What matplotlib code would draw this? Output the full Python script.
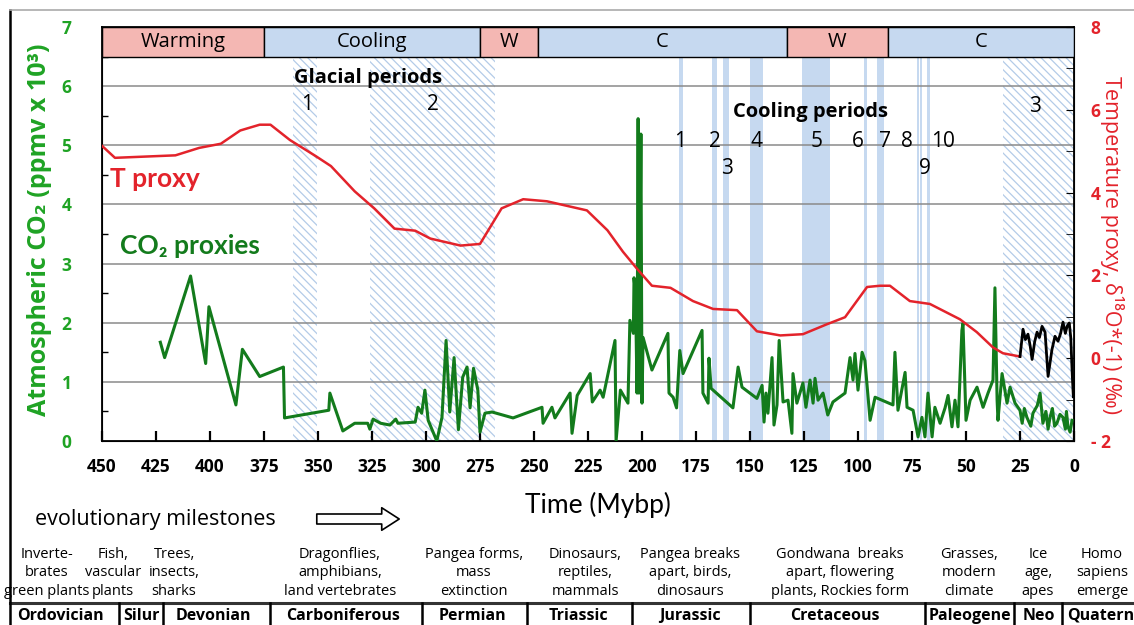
import numpy as np
import matplotlib
matplotlib.use("Agg")
import matplotlib.pyplot as plt
from matplotlib.lines import Line2D

plt.rcParams['font.family'] = ['Lato', 'DejaVu Sans']
plt.rcParams['hatch.linewidth'] = 0.9
OS = ['Open Sans', 'DejaVu Sans']

# ---- data ----
# CO2 proxies, x10^3 ppmv, ages in Mybp
co2_age = [423, 421, 409, 402, 400.5, 388, 385, 377, 366, 365.5, 345, 344.5, 338.5, 333,
           327, 326, 324.5, 321, 316.7, 314, 313, 305, 303.7, 302, 300.5, 299, 295, 292.6,
           290.7, 289, 287, 285, 283, 281, 279.6, 278, 276, 275, 272.7, 269.4, 259.7, 246.3,
           245.8, 241.7, 240.3, 233.3, 232.4, 230, 224, 223, 219.4, 218, 212.5, 212, 210,
           206.5, 205.6, 204, 203.7, 203, 202.3, 201.8, 201.4, 200.5, 200, 199.5, 195.4, 188,
           187.5, 185.6, 184, 182.5, 181, 172.2, 171.8, 169.4, 169, 168, 157.9, 155.5, 153.7,
           146.8, 144.4, 143.5, 142.6, 141.7, 139.8, 138.9, 137.5, 136.5, 134.7, 132.4, 130.6,
           130.1, 128.3, 125.5, 124.1, 122.2, 120.8, 119.9, 118.5, 116.2, 114, 111.6, 106,
           103.7, 102.3, 101.4, 100, 98.1, 96.8, 94.4, 92.1, 83.8, 82.9, 81.5, 78.2, 77.3, 74.5,
           72.2, 70.4, 69, 67.6, 65.7, 64.4, 62, 59.7, 58.3, 56.5, 55.1, 53.7, 51.9, 51.4, 50,
           48.1, 44.9, 42.1, 39.8, 37.5, 36.6, 35.6, 35.2, 33.3, 31, 29.6, 27.3, 25, 24, 23,
           21.8, 20, 19, 17, 15.7, 14.4, 13, 12, 11.1, 10, 9, 7.9, 6.5, 5.1, 4, 3.5, 2.8, 1.8, 0.9]
co2_val = [1.67, 1.41, 2.79, 1.31, 2.27, 0.61, 1.55, 1.09, 1.25, 0.39, 0.52, 0.81, 0.17, 0.30,
           0.30, 0.20, 0.37, 0.30, 0.27, 0.37, 0.30, 0.32, 0.57, 0.47, 0.86, 0.35, 0.0, 0.40,
           1.70, 0.49, 1.41, 0.19, 1.08, 1.25, 0.56, 1.23, 0.86, 0.15, 0.47, 0.49, 0.39, 0.57,
           0.30, 0.57, 0.39, 0.81, 0.13, 0.77, 1.14, 0.66, 0.86, 0.74, 1.70, 0.0, 0.86,
           0.64, 2.04, 1.82, 2.76, 2.49, 0.81, 5.45, 0.81, 5.19, 0.64, 1.75, 1.20, 1.82,
           0.81, 0.74, 0.56, 1.53, 1.14, 1.87, 0.81, 0.64, 1.40, 0.89, 0.56, 1.25, 0.91,
           0.72, 0.94, 0.32, 0.81, 0.47, 1.41, 0.27, 0.61, 1.70, 0.66, 0.69, 0.13,
           1.14, 0.64, 0.98, 0.57, 1.03, 0.64, 1.06, 0.69, 0.81, 0.44, 0.66, 0.81,
           1.41, 1.03, 1.48, 0.86, 1.50, 1.36, 0.35, 0.74, 0.61, 1.50, 0.52, 1.16, 0.57, 0.52,
           0.07, 0.40, 0.07, 0.81, 0.07, 0.57, 0.30, 0.56, 0.77, 0.24, 0.69, 0.24, 1.87, 1.99, 0.35,
           0.69, 0.91, 0.57, 0.81, 1.03, 2.59, 0.69, 0.35, 1.14, 0.64, 0.91, 0.64, 0.52, 0.30, 0.55,
           0.40, 0.25, 0.47, 0.60, 0.81, 0.30, 0.50, 0.20, 0.40, 0.55, 0.25, 0.30, 0.45, 0.40, 0.20, 0.50, 0.24, 0.15, 0.35]

# temperature proxy (delta18O * -1, permil)
t_age = [450, 444, 416, 405, 395, 386, 377, 372, 363, 351, 344, 333, 324, 314.6, 305, 298, 284,
         275, 265, 255, 244, 225.5, 216, 208.8, 202.3, 195.4, 186.8, 176.4, 167.1, 156, 146.8,
         136, 125.5, 114.4, 106, 95.8, 89.8, 85.2, 76, 66.7, 52.8, 45, 37.5, 32.9, 25]
t_val = [5.13, 4.84, 4.90, 5.08, 5.18, 5.50, 5.64, 5.64, 5.27, 4.88, 4.64, 4.03, 3.62, 3.13, 3.08,
         2.89, 2.72, 2.76, 3.62, 3.84, 3.79, 3.57, 3.09, 2.57, 2.16, 1.75, 1.70, 1.38, 1.19, 1.16,
         0.65, 0.55, 0.58, 0.82, 0.99, 1.72, 1.75, 1.75, 1.38, 1.31, 0.94, 0.63, 0.26, 0.12, 0.04]

# recent high resolution record (black)
rec_age = [25, 23.6, 22.5, 21.3, 20.3, 19.4, 18.2, 17.1, 16, 14.8, 13.4, 12, 10.2, 8.8, 7.4,
           6.2, 5.1, 4, 3.2, 2.2, 1.5, 0.8, 0.3]
rec_val = [0.04, 0.70, 0.45, 0.58, 0.30, -0.03, 0.40, 0.63, 0.50, 0.77, 0.63, -0.44, 0.21, 0.53,
           0.41, 0.60, 0.87, 0.60, 0.77, 0.85, 0.50, -0.40, -0.93]

# climate phases in the top band
phase_start = [450, 375, 275, 248, 133, 86]
phase_end = [375, 275, 248, 133, 86, 0]
phase_label = ['Warming', 'Cooling', 'W', 'C', 'W', 'C']

# glacial periods (hatched) and cooling periods (strips)
glacial_start = [361.5, 326, 33]
glacial_end = [350.5, 268, 0]
cool_start = [183, 167.6, 162.5, 150, 126, 97.2, 91.2, 72.7, 71.3, 68.2]
cool_end = [181.2, 165.3, 159.7, 144, 113, 95.8, 88, 71.6, 70.3, 66.8]

milestones = ['Inverte-\nbrates\ngreen plants', 'Fish,\nvascular\nplants', 'Trees,\ninsects,\nsharks',
              'Dragonflies,\namphibians,\nland vertebrates', 'Pangea forms,\nmass\nextinction',
              'Dinosaurs,\nreptiles,\nmammals', 'Pangea breaks\napart, birds,\ndinosaurs',
              'Gondwana  breaks\napart, flowering\nplants, Rockies form', 'Grasses,\nmodern\nclimate',
              'Ice\nage,\napes', 'Homo\nsapiens\nemerge']
milestone_px = [47, 113, 174, 340, 474, 585, 690, 840, 969, 1038, 1102]
periods = ['Ordovician', 'Silur', 'Devonian', 'Carboniferous', 'Permian', 'Triassic',
           'Jurassic', 'Cretaceous', 'Paleogene', 'Neo', 'Quatern']
period_px = [60, 141, 213, 343, 472, 578, 690, 835, 970, 1039, 1101]
period_sep_px = [119, 163, 270, 422, 527, 632, 750, 925, 1014, 1062]

W, H = 1134, 625
RED = '#e3232b'
GREEN = '#137b1c'
DKGREEN = '#1fa324'
PINK = '#f4b7b3'
LBLUE = '#c6d9f0'


def fx(px):
    return px / W


def fy(py):
    return 1 - py / H


fig = plt.figure(figsize=(W / 100, H / 100), dpi=100)
ax = fig.add_axes([fx(102), fy(441), 972 / W, 414 / H])
ax.set_xlim(450, 0)
ax.set_ylim(0, 7)
band = 6.5 / 7

# top band
for s, e, lab in zip(phase_start, phase_end, phase_label):
    col = PINK if lab.startswith('W') else LBLUE
    ax.axvspan(s, e, ymin=band, ymax=1, facecolor=col, edgecolor='black', lw=1.0, zorder=3)
    ax.text((s + e) / 2, 6.75, lab, ha='center', va='center', fontsize=14.5, zorder=4, family=OS)

# glacial periods
for s, e in zip(glacial_start, glacial_end):
    ax.axvspan(s, e, ymin=0, ymax=band, facecolor='white', edgecolor='#b3cbe8',
               hatch='\\\\\\\\', lw=0, zorder=0.5)
# cooling periods
for s, e in zip(cool_start, cool_end):
    ax.axvspan(s, e, ymin=0, ymax=band, facecolor=LBLUE, edgecolor='none', zorder=0.6)

for g in range(1, 7):
    ax.axhline(g, color='#8a8a8a', lw=1.1, zorder=1)

ax.plot(co2_age, co2_val, color=GREEN, lw=2.2, zorder=5)

ax.set_xticks(np.arange(450, -1, -25))
ax.set_yticks(range(0, 8))
ax.set_yticks(np.arange(0.5, 7, 1), minor=True)
ax.tick_params(axis='x', direction='in', length=7, width=1.6, pad=12, labelsize=12.5)
ax.tick_params(axis='y', which='major', direction='in', length=0, pad=22, labelsize=12.5,
               labelcolor=DKGREEN)
ax.tick_params(axis='y', which='minor', direction='in', length=4, width=1)
for lab in ax.get_xticklabels() + ax.get_yticklabels():
    lab.set_fontweight('bold')
    lab.set_family(OS)
for sp in ax.spines.values():
    sp.set_linewidth(1.3)

ax2 = ax.twinx()
ax2.set_ylim(-2, 8)
ax2.plot(t_age, t_val, color=RED, lw=1.8, zorder=5)
ax2.plot(rec_age, rec_val, color='black', lw=2.0, zorder=5)
ax2.set_yticks(range(-2, 9, 2))
ax2.set_yticklabels(['- 2', '0', '2', '4', '6', '8'])
ax2.set_yticks(range(-1, 8, 2), minor=True)
ax2.tick_params(axis='y', which='major', direction='in', length=6, pad=12, labelsize=12.5,
                labelcolor=RED)
ax2.tick_params(axis='y', which='minor', direction='in', length=6)
for lab in ax2.get_yticklabels():
    lab.set_fontweight('bold')
    lab.set_family(OS)

# in-plot annotations
ax.text(326.9, 6.14, 'Glacial periods', ha='center', va='center', fontsize=14.5,
        fontweight='bold', family=OS)
ax.text(355, 5.69, '1', ha='center', va='center', fontsize=15, family=OS)
ax.text(296.8, 5.69, '2', ha='center', va='center', fontsize=15, family=OS)
ax.text(18, 5.66, '3', ha='center', va='center', fontsize=15, family=OS)
ax.text(122.2, 5.57, 'Cooling periods', ha='center', va='center', fontsize=14.5,
        fontweight='bold', family=OS)
for lab, xx, yy in [('1', 182.4, 5.07), ('2', 166.2, 5.07), ('4', 146.8, 5.07), ('5', 119, 5.07),
                    ('6', 100, 5.07), ('7', 87.5, 5.07), ('8', 77.3, 5.07), ('10', 60.6, 5.07),
                    ('3', 160.6, 4.61), ('9', 69, 4.61)]:
    ax.text(xx, yy, lab, ha='center', va='center', fontsize=15, family=OS)
ax.text(446.3, 4.43, 'T proxy', ha='left', va='center', fontsize=19, fontweight='bold', color=RED)
ax.text(441.7, 3.30, 'CO₂ proxies', ha='left', va='center', fontsize=19, fontweight='bold',
        color=GREEN)

# axis labels
fig.text(fx(40), fy(230), 'Atmospheric CO₂ (ppmv x 10³)', rotation=90, ha='center', va='center',
         fontsize=18, fontweight='bold', color=DKGREEN, family=OS)
fig.text(fx(1112), fy(245), 'Temperature proxy, δ¹⁸O*(-1) (‰)', rotation=270, ha='center',
         va='center', fontsize=15.5, color=RED, family=OS)
fig.text(fx(598), fy(505), 'Time (Mybp)', ha='center', va='center', fontsize=19)

# evolutionary milestones
fig.text(fx(35), fy(519), 'evolutionary milestones', ha='left', va='center', fontsize=15.5, family=OS)
ax.annotate('', xy=(fx(402), fy(519)), xytext=(fx(314), fy(519)), xycoords='figure fraction',
            textcoords='figure fraction',
            arrowprops=dict(arrowstyle='simple,head_length=0.7,head_width=0.9,tail_width=0.4',
                            fc='white', ec='black', lw=1.2, mutation_scale=18))
for txt, px in zip(milestones, milestone_px):
    fig.text(fx(px), fy(573), txt, ha='center', va='center', fontsize=10.5, linespacing=1.35,
             family=OS)

# geologic periods row
fig.add_artist(Line2D([fx(10), 1], [fy(603), fy(603)], color='#333333', lw=2.2))
for px in period_sep_px:
    fig.add_artist(Line2D([fx(px), fx(px)], [fy(603), 0], color='black', lw=1.8))
for txt, px in zip(periods, period_px):
    fig.text(fx(px), fy(616), txt, ha='center', va='center', fontsize=11.5, fontweight='bold',
             family=OS)

# screenshot frame
fig.add_artist(Line2D([fx(10), fx(10)], [fy(10), 0], color='black', lw=1.8))
fig.add_artist(Line2D([fx(10), 1], [fy(10), fy(10)], color='#aaaaaa', lw=1.2))

fig.savefig('out.png', dpi=100)
